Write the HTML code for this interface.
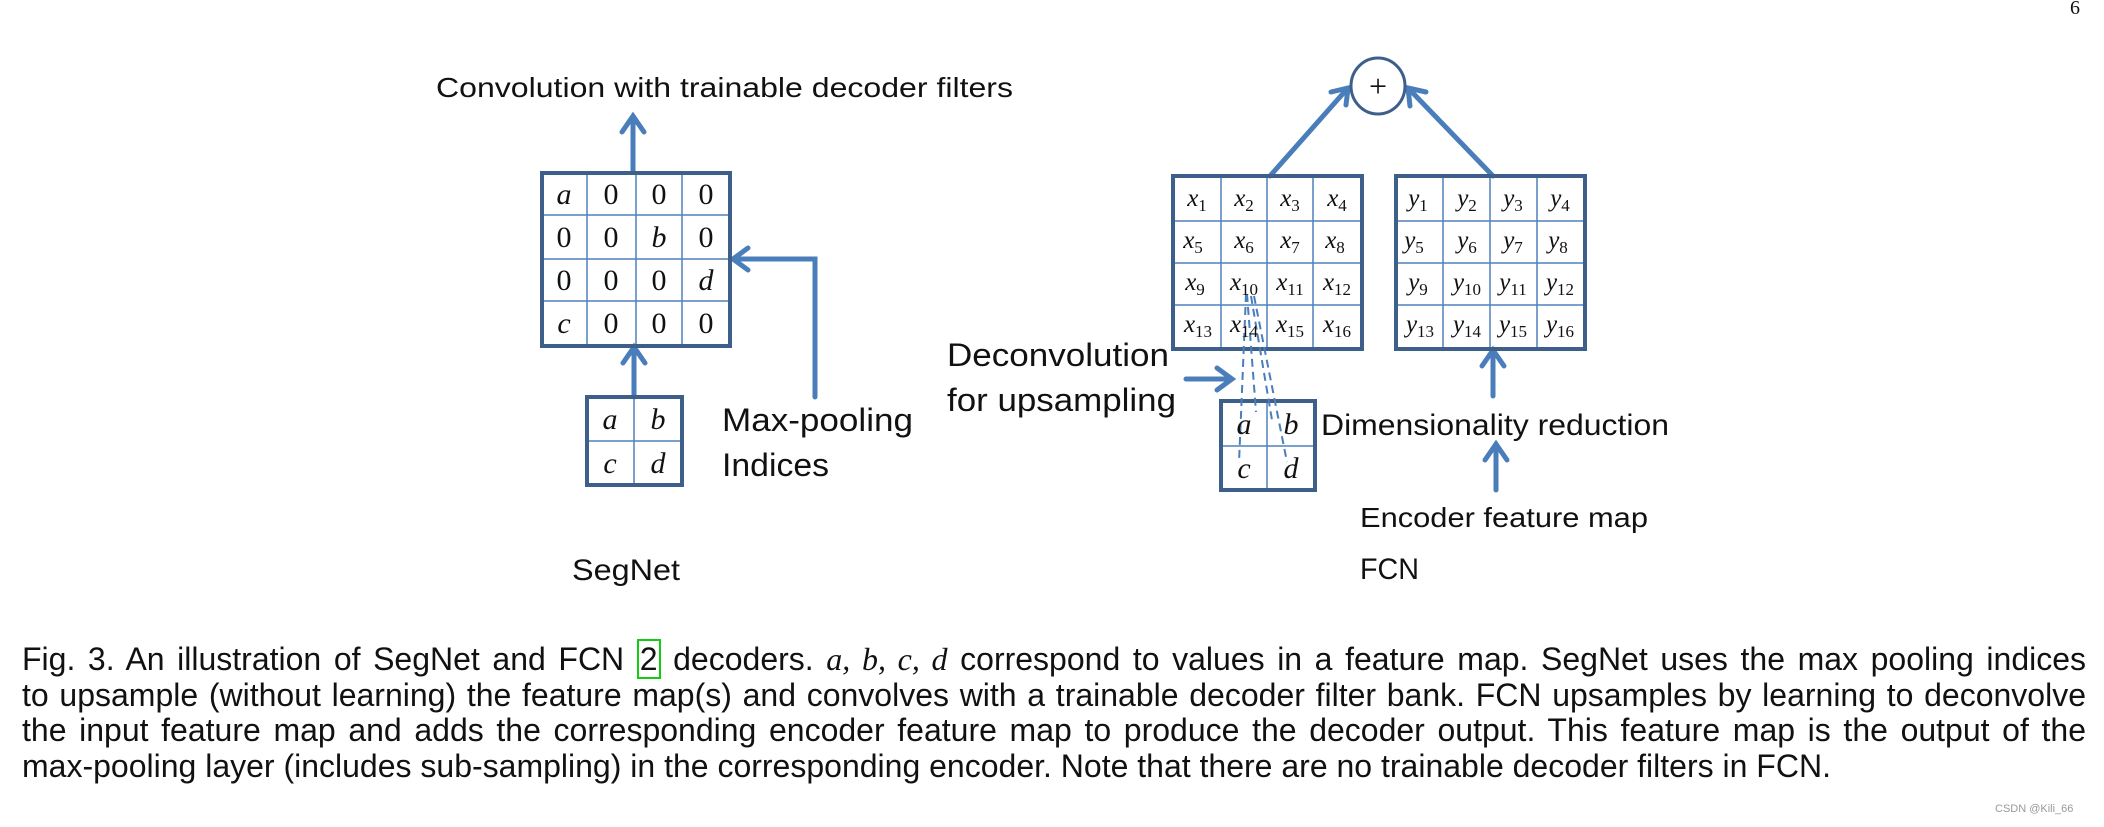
<!DOCTYPE html>
<html><head><meta charset="utf-8"><style>
html,body{margin:0;padding:0;background:#fff;}
body{width:2104px;height:827px;position:relative;overflow:hidden;}
svg{position:absolute;left:0;top:0;}
.cap{position:absolute;left:22px;top:642px;width:2064px;font-family:"Liberation Sans",sans-serif;font-size:32px;line-height:35.5px;color:#111;}
.cap div{text-align:justify;text-align-last:justify;white-space:nowrap;}
.cap div.l{text-align-last:left;}
.m{font-family:"Liberation Serif",serif;font-style:italic;}
.g{border:2px solid #1c1;padding:0 1px;}
</style></head><body>
<svg width="2104" height="827" viewBox="0 0 2104 827">
<g font-family="Liberation Sans, sans-serif" fill="#111" font-size="30">
<text x="436" y="97" textLength="577" lengthAdjust="spacingAndGlyphs" font-size="28">Convolution with trainable decoder filters</text>
<text x="722" y="431" textLength="191" lengthAdjust="spacingAndGlyphs" font-size="32">Max-pooling</text>
<text x="722" y="476" textLength="107" lengthAdjust="spacingAndGlyphs" font-size="32">Indices</text>
<text x="572" y="580" textLength="108" lengthAdjust="spacingAndGlyphs" font-size="30">SegNet</text>
<text x="947" y="366" textLength="222" lengthAdjust="spacingAndGlyphs" font-size="32">Deconvolution</text>
<text x="947" y="411" textLength="229" lengthAdjust="spacingAndGlyphs" font-size="32">for upsampling</text>
<text x="1321" y="435" textLength="348" lengthAdjust="spacingAndGlyphs" font-size="30">Dimensionality reduction</text>
<text x="1360" y="527" textLength="288" lengthAdjust="spacingAndGlyphs" font-size="28">Encoder feature map</text>
<text x="1360" y="579" textLength="59" lengthAdjust="spacingAndGlyphs" font-size="30">FCN</text>
<text x="2070" y="14" font-family="Liberation Serif, serif" font-size="20">6</text>
<text x="1995" y="812" font-size="11" fill="#999">CSDN @Kili_66</text>
</g>
<g stroke="#4a7ebb" stroke-width="5" fill="none" stroke-linecap="round">
<line x1="633" y1="172" x2="633" y2="118"/><polyline points="622,132 633,116 644,132"/>
<line x1="634" y1="397" x2="634" y2="348"/><polyline points="623,363 634,347 645,363"/>
<polyline points="815,397 815,259 734,259"/><polyline points="748,248 733,259 748,270"/>
<line x1="1270" y1="176" x2="1347" y2="89"/><polyline points="1331,92 1348,88 1346,105"/>
<line x1="1493" y1="176" x2="1409" y2="89"/><polyline points="1410,106 1408,88 1426,92"/>
<line x1="1493" y1="396" x2="1493" y2="351"/><polyline points="1482,366 1493,350 1504,366"/>
<line x1="1496" y1="490" x2="1496" y2="445"/><polyline points="1485,460 1496,444 1507,460"/>
<line x1="1186" y1="379" x2="1230" y2="379"/><polyline points="1217,368 1232,379 1217,390"/>
</g>
<ellipse cx="1378" cy="86" rx="27" ry="28" fill="#fff" stroke="#3e5f8a" stroke-width="3"/>
<text x="1378" y="97" text-anchor="middle" font-family="Liberation Serif, serif" font-size="32" fill="#111">+</text>
<g stroke="#4f81bd" stroke-width="1.5">
<line x1="587" y1="173" x2="587" y2="346"/><line x1="636" y1="173" x2="636" y2="346"/><line x1="682" y1="173" x2="682" y2="346"/>
<line x1="542" y1="215" x2="730" y2="215"/><line x1="542" y1="259" x2="730" y2="259"/><line x1="542" y1="301" x2="730" y2="301"/>
<line x1="634" y1="397" x2="634" y2="485"/><line x1="587" y1="441" x2="682" y2="441"/>
<line x1="1221" y1="176" x2="1221" y2="349"/><line x1="1267" y1="176" x2="1267" y2="349"/><line x1="1313" y1="176" x2="1313" y2="349"/>
<line x1="1173" y1="221" x2="1362" y2="221"/><line x1="1173" y1="263" x2="1362" y2="263"/><line x1="1173" y1="305" x2="1362" y2="305"/>
<line x1="1443" y1="176" x2="1443" y2="349"/><line x1="1490" y1="176" x2="1490" y2="349"/><line x1="1537" y1="176" x2="1537" y2="349"/>
<line x1="1396" y1="221" x2="1585" y2="221"/><line x1="1396" y1="263" x2="1585" y2="263"/><line x1="1396" y1="305" x2="1585" y2="305"/>
<line x1="1267" y1="401" x2="1267" y2="490"/><line x1="1221" y1="446" x2="1315" y2="446"/>
</g>
<g stroke="#3e5f8a" stroke-width="4" fill="none">
<rect x="542" y="173" width="188" height="173"/>
<rect x="587" y="397" width="95" height="88"/>
<rect x="1173" y="176" width="189" height="173"/>
<rect x="1396" y="176" width="189" height="173"/>
<rect x="1221" y="401" width="94" height="89"/>
</g>
<g stroke="#4a7ebb" stroke-width="2" stroke-dasharray="8,5" fill="none">
<line x1="1246" y1="294" x2="1239" y2="463"/>
<line x1="1247" y1="294" x2="1256" y2="412"/>
<line x1="1251" y1="296" x2="1272" y2="420"/>
<line x1="1254" y1="296" x2="1287" y2="462"/>
</g>
<g font-family="Liberation Serif, serif" font-size="30" fill="#111" text-anchor="middle">
<text x="564" y="204" font-style="italic">a</text><text x="611" y="204">0</text><text x="659" y="204">0</text><text x="706" y="204">0</text>
<text x="564" y="247">0</text><text x="611" y="247">0</text><text x="659" y="247" font-style="italic">b</text><text x="706" y="247">0</text>
<text x="564" y="290">0</text><text x="611" y="290">0</text><text x="659" y="290">0</text><text x="706" y="290" font-style="italic">d</text>
<text x="564" y="333" font-style="italic">c</text><text x="611" y="333">0</text><text x="659" y="333">0</text><text x="706" y="333">0</text>
<g font-style="italic">
<text x="610" y="429">a</text><text x="658" y="429">b</text><text x="610" y="473">c</text><text x="658" y="473">d</text>
<text x="1244" y="434">a</text><text x="1291" y="434">b</text><text x="1244" y="478">c</text><text x="1291" y="478">d</text>
</g>
</g>
<g font-family="Liberation Serif, serif" font-size="25" fill="#111" text-anchor="middle">
<text x="1197" y="206"><tspan font-style="italic">x</tspan><tspan font-size="17" dy="5">1</tspan></text>
<text x="1244" y="206"><tspan font-style="italic">x</tspan><tspan font-size="17" dy="5">2</tspan></text>
<text x="1290" y="206"><tspan font-style="italic">x</tspan><tspan font-size="17" dy="5">3</tspan></text>
<text x="1337" y="206"><tspan font-style="italic">x</tspan><tspan font-size="17" dy="5">4</tspan></text>
<text x="1193" y="248"><tspan font-style="italic">x</tspan><tspan font-size="17" dy="5">5</tspan></text>
<text x="1244" y="248"><tspan font-style="italic">x</tspan><tspan font-size="17" dy="5">6</tspan></text>
<text x="1290" y="248"><tspan font-style="italic">x</tspan><tspan font-size="17" dy="5">7</tspan></text>
<text x="1335" y="248"><tspan font-style="italic">x</tspan><tspan font-size="17" dy="5">8</tspan></text>
<text x="1195" y="290"><tspan font-style="italic">x</tspan><tspan font-size="17" dy="5">9</tspan></text>
<text x="1244" y="290"><tspan font-style="italic">x</tspan><tspan font-size="17" dy="5">10</tspan></text>
<text x="1290" y="290"><tspan font-style="italic">x</tspan><tspan font-size="17" dy="5">11</tspan></text>
<text x="1337" y="290"><tspan font-style="italic">x</tspan><tspan font-size="17" dy="5">12</tspan></text>
<text x="1198" y="332"><tspan font-style="italic">x</tspan><tspan font-size="17" dy="5">13</tspan></text>
<text x="1244" y="332"><tspan font-style="italic">x</tspan><tspan font-size="17" dy="5">14</tspan></text>
<text x="1290" y="332"><tspan font-style="italic">x</tspan><tspan font-size="17" dy="5">15</tspan></text>
<text x="1337" y="332"><tspan font-style="italic">x</tspan><tspan font-size="17" dy="5">16</tspan></text>
<text x="1418" y="206"><tspan font-style="italic">y</tspan><tspan font-size="17" dy="5">1</tspan></text>
<text x="1467" y="206"><tspan font-style="italic">y</tspan><tspan font-size="17" dy="5">2</tspan></text>
<text x="1513" y="206"><tspan font-style="italic">y</tspan><tspan font-size="17" dy="5">3</tspan></text>
<text x="1560" y="206"><tspan font-style="italic">y</tspan><tspan font-size="17" dy="5">4</tspan></text>
<text x="1414" y="248"><tspan font-style="italic">y</tspan><tspan font-size="17" dy="5">5</tspan></text>
<text x="1467" y="248"><tspan font-style="italic">y</tspan><tspan font-size="17" dy="5">6</tspan></text>
<text x="1513" y="248"><tspan font-style="italic">y</tspan><tspan font-size="17" dy="5">7</tspan></text>
<text x="1558" y="248"><tspan font-style="italic">y</tspan><tspan font-size="17" dy="5">8</tspan></text>
<text x="1418" y="290"><tspan font-style="italic">y</tspan><tspan font-size="17" dy="5">9</tspan></text>
<text x="1467" y="290"><tspan font-style="italic">y</tspan><tspan font-size="17" dy="5">10</tspan></text>
<text x="1513" y="290"><tspan font-style="italic">y</tspan><tspan font-size="17" dy="5">11</tspan></text>
<text x="1560" y="290"><tspan font-style="italic">y</tspan><tspan font-size="17" dy="5">12</tspan></text>
<text x="1420" y="332"><tspan font-style="italic">y</tspan><tspan font-size="17" dy="5">13</tspan></text>
<text x="1467" y="332"><tspan font-style="italic">y</tspan><tspan font-size="17" dy="5">14</tspan></text>
<text x="1513" y="332"><tspan font-style="italic">y</tspan><tspan font-size="17" dy="5">15</tspan></text>
<text x="1560" y="332"><tspan font-style="italic">y</tspan><tspan font-size="17" dy="5">16</tspan></text>
</g>
</svg>
<div class="cap">
<div>Fig. 3. An illustration of SegNet and FCN <span class="g">2</span> decoders. <span class="m">a, b, c, d</span> correspond to values in a feature map. SegNet uses the max pooling indices</div>
<div>to upsample (without learning) the feature map(s) and convolves with a trainable decoder filter bank. FCN upsamples by learning to deconvolve</div>
<div>the input feature map and adds the corresponding encoder feature map to produce the decoder output. This feature map is the output of the</div>
<div class="l">max-pooling layer (includes sub-sampling) in the corresponding encoder. Note that there are no trainable decoder filters in FCN.</div>
</div>
</body></html>
